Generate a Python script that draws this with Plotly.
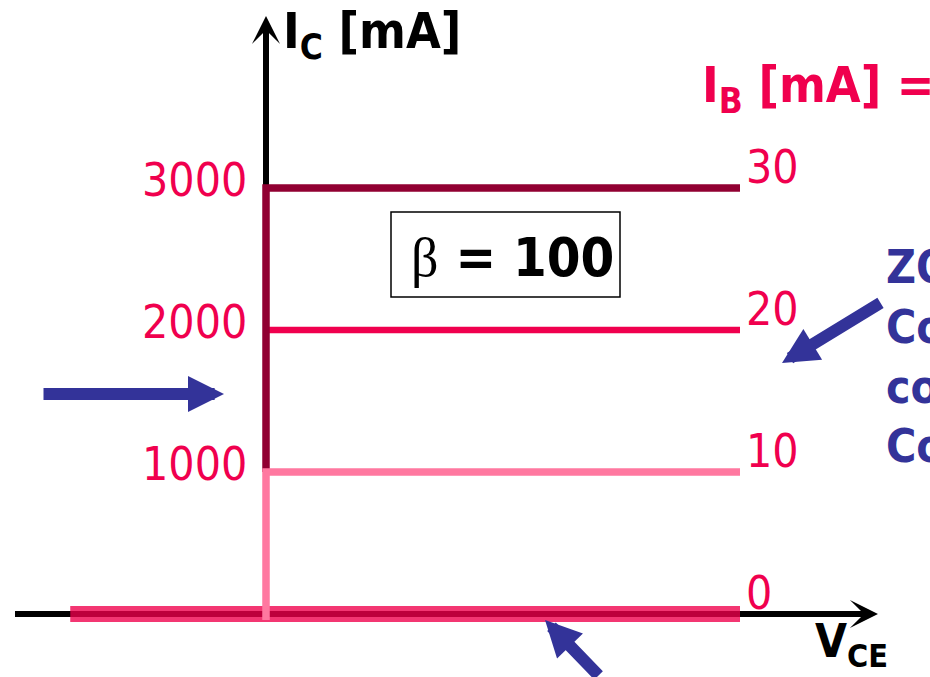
import plotly.graph_objects as go

# ---------------- data ----------------
IB_values = [0, 10, 20, 30]            # base current labels [mA]
IC_levels = [0, 1000, 2000, 3000]      # collector current levels [mA]
IC_ticks = [1000, 2000, 3000]
IC_tick_text = ["1000", "2000", "3000"]
IB_label_text = ["0", "10", "20", "30"]
VCE_start = 0.0                        # saturation edge (y axis)
VCE_end = 10.0                         # end of drawn characteristics
VCE_cutoff_start = -4.13               # cut-off line starts left of the y axis
IC_sat_bottom = -42                    # pink vertical runs slightly below the axis
BETA_TEXT = "100"

# ---------------- geometry helpers ----------------
W, H = 930, 677
KX = 47.4          # px per VCE unit
X0PX = 266         # pixel of VCE = 0
KY = 0.142         # px per mA
Y0PX = 614         # pixel of IC = 0
x_range = [-X0PX / KX, (W - X0PX) / KX]
y_range = [-(H - Y0PX) / KY, Y0PX / KY]

def px(x):
    return x / W

def py(y):
    return 1 - y / H

def dx(p):
    return (p - X0PX) / KX

def dy(p):
    return (Y0PX - p) / KY

FONT = "DejaVu Sans Condensed, DejaVu Sans, sans-serif"
CRIMSON = "#f0004e"
BLUE = "#333399"

colors = {0: "rgba(240,0,76,0.79)", 10: "#ff78a0", 20: "#f0004e", 30: "#910032"}
widths = {0: 16, 10: 7.5, 20: 6.5, 30: 7.5}

fig = go.Figure()

# IB = 0 (cut-off) line
fig.add_trace(go.Scatter(x=[VCE_cutoff_start, VCE_end], y=[IC_levels[0], IC_levels[0]],
                         mode="lines", line=dict(color=colors[0], width=widths[0]),
                         hoverinfo="skip"))
# IB = 20
fig.add_trace(go.Scatter(x=[VCE_start, VCE_end], y=[IC_levels[2], IC_levels[2]],
                         mode="lines", line=dict(color=colors[20], width=widths[20]),
                         hoverinfo="skip"))
# IB = 30 (with saturation vertical down to 1000)
fig.add_trace(go.Scatter(x=[VCE_start, VCE_start, VCE_end],
                         y=[IC_levels[1], IC_levels[3], IC_levels[3]],
                         mode="lines", line=dict(color=colors[30], width=widths[30]),
                         hoverinfo="skip"))
# IB = 10 (with vertical from below axis)
fig.add_trace(go.Scatter(x=[VCE_start, VCE_start, VCE_end],
                         y=[IC_sat_bottom, IC_levels[1], IC_levels[1]],
                         mode="lines", line=dict(color=colors[10], width=widths[10]),
                         hoverinfo="skip"))

shapes = [
    # x axis shaft (below traces)
    dict(type="line", xref="x", yref="y", x0=dx(15), x1=dx(862), y0=0, y1=0,
         line=dict(color="black", width=6), layer="below"),
    # y axis shaft
    dict(type="line", xref="x", yref="y", x0=0, x1=0, y0=IC_sat_bottom, y1=dy(60),
         line=dict(color="black", width=6), layer="below"),
    # beta box
    dict(type="rect", xref="paper", yref="paper", x0=px(391), x1=px(620),
         y0=py(297), y1=py(212), line=dict(color="black", width=1.5)),
]

ann = []
# axis arrow heads
ann.append(dict(x=dx(878), y=0, ax=dx(800), ay=0, xref="x", yref="y", axref="x", ayref="y",
                text="", showarrow=True, arrowhead=3, arrowwidth=6, arrowsize=0.78,
                arrowcolor="black"))
ann.append(dict(x=0, y=dy(16), ax=0, ay=dy(90), xref="x", yref="y", axref="x", ayref="y",
                text="", showarrow=True, arrowhead=3, arrowwidth=6, arrowsize=0.78,
                arrowcolor="black"))

# left tick labels
for v, t in zip(IC_ticks, IC_tick_text):
    ann.append(dict(x=0, y=v, xref="x", yref="y", text=t, showarrow=False,
                    xanchor="right", yanchor="middle", xshift=-17, yshift=8,
                    font=dict(family=FONT, size=46, color=CRIMSON)))
# right IB labels
for v, t in zip(IC_levels, IB_label_text):
    ann.append(dict(x=VCE_end, y=v, xref="x", yref="y", text=t, showarrow=False,
                    xanchor="left", yanchor="middle", xshift=4, yshift=21,
                    font=dict(family=FONT, size=46, color=CRIMSON)))

# titles
ann.append(dict(x=px(281), y=py(0), xref="paper", yref="paper",
                text="<b>I<sub>C</sub> [mA]</b>", showarrow=False,
                xanchor="left", yanchor="top",
                font=dict(family=FONT, size=50, color="black")))
ann.append(dict(x=px(700), y=py(54), xref="paper", yref="paper",
                text="<b>I<sub>B</sub> [mA] =</b>", showarrow=False,
                xanchor="left", yanchor="top",
                font=dict(family=FONT, size=50, color=CRIMSON)))
ann.append(dict(x=px(813), y=py(612), xref="paper", yref="paper",
                text="<b>V<sub>CE</sub></b>", showarrow=False,
                xanchor="left", yanchor="top",
                font=dict(family=FONT, size=46, color="black")))
# beta
ann.append(dict(x=px(512), y=py(257), xref="paper", yref="paper",
                text="<span style='font-family:Liberation Serif'>β</span><b> = " + BETA_TEXT + "</b>",
                showarrow=False, xanchor="center", yanchor="middle",
                font=dict(family=FONT, size=54, color="black")))
# right blue text (clipped at edge)
ann.append(dict(x=px(884), y=py(238), xref="paper", yref="paper",
                text="<b>ZONA ACTIVA<br>Corriente de colector<br>constante<br>Con IB fija</b>",
                showarrow=False, xanchor="left", yanchor="top", align="left",
                font=dict(family=FONT, size=46, color=BLUE)))

# blue arrows (tip, tail in px)
def blue_arrow(tip, tail):
    return dict(x=px(tip[0]), y=py(tip[1]), xref="paper", yref="paper",
                ax=tail[0] - tip[0], ay=tail[1] - tip[1], text="", showarrow=True,
                arrowhead=2, arrowwidth=12, arrowsize=0.6, arrowcolor=BLUE)

ann.append(blue_arrow((224, 394), (42, 394)))
ann.append(blue_arrow((782, 363), (882, 302)))
ann.append(blue_arrow((545, 620), (600, 692)))

fig.update_layout(
    width=W, height=H,
    margin=dict(l=0, r=0, t=0, b=0),
    paper_bgcolor="white", plot_bgcolor="white",
    showlegend=False,
    xaxis=dict(range=x_range, visible=False, fixedrange=True),
    yaxis=dict(range=y_range, visible=False, fixedrange=True),
    shapes=shapes,
    annotations=ann,
)

fig.write_html("out.html", config={"displayModeBar": False},
               post_script="document.body.style.margin='0';")
